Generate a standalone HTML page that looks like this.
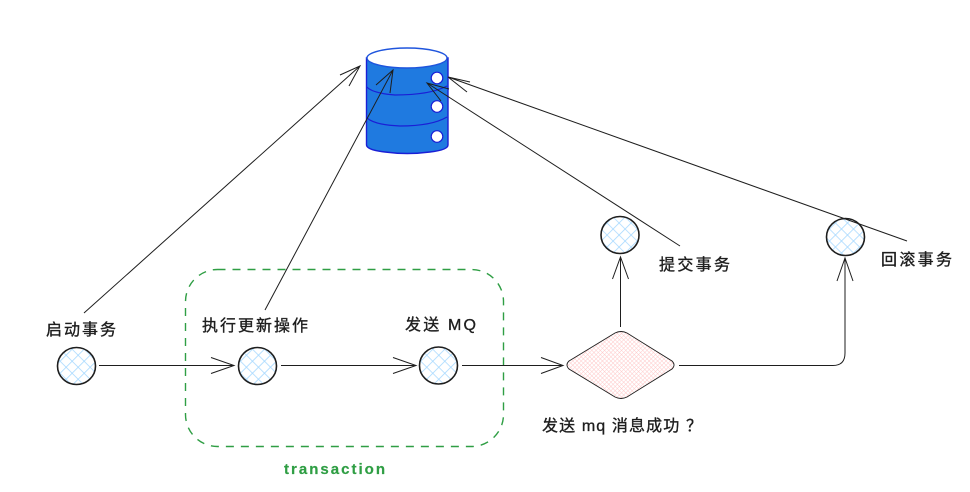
<!DOCTYPE html>
<html>
<head>
<meta charset="utf-8">
<style>
html,body{margin:0;padding:0;background:#fff;}
svg{display:block;}
text{font-family:"Liberation Sans","WenQuanYi Zen Hei","Noto Sans CJK SC",sans-serif;font-size:16px;fill:#1e1e1e;stroke:#1e1e1e;stroke-width:0.35px;}
</style>
</head>
<body>
<svg width="970" height="492" viewBox="0 0 970 492" xmlns="http://www.w3.org/2000/svg">
<defs>
<pattern id="blue" width="8.500" height="8.500" patternUnits="userSpaceOnUse" patternTransform="rotate(45)">
<path d="M0 0H8.500M0 0V8.500" stroke="#a5d8ff" stroke-width="1.6" fill="none"/>
</pattern>
<pattern id="pink" width="3" height="3" patternUnits="userSpaceOnUse" patternTransform="rotate(45)">
<path d="M0 0H3M0 0V3" stroke="#ffc9c9" stroke-width="1" fill="none"/>
</pattern>
</defs>

<!-- green dashed box -->
<rect x="185.500" y="269.500" width="318" height="177" rx="32" fill="none" stroke="#2f9e44" stroke-width="1.4" stroke-dasharray="8 7"/>

<!-- database -->
<path d="M366.500 58V145Q367 150 385 152Q407 155 430 152Q448 150 448 145V58Z" fill="#1f7ae0" stroke="#1a1fd6" stroke-width="1.4"/>
<path d="M367 87Q372 93 395 95Q430 95 447 86M367 118Q375 125 400 126Q432 126 447 117" fill="none" stroke="#1a1fd6" stroke-width="1.2"/>
<ellipse cx="407" cy="58" rx="40" ry="10" fill="#fff" stroke="#1f55dd" stroke-width="1.4"/>
<circle cx="437" cy="78" r="5.800" fill="#fff" stroke="#1a1fd6" stroke-width="1.2"/>
<circle cx="437" cy="106.500" r="5.800" fill="#fff" stroke="#1a1fd6" stroke-width="1.2"/>
<circle cx="437" cy="136.500" r="5.800" fill="#fff" stroke="#1a1fd6" stroke-width="1.2"/>

<!-- nodes -->
<g stroke="#1e1e1e" stroke-width="1.6" fill="url(#blue)">
<ellipse cx="76.500" cy="366" rx="19" ry="18.500"/>
<ellipse cx="257.500" cy="366" rx="19" ry="18.500"/>
<ellipse cx="438.500" cy="365.500" rx="19" ry="18.500"/>
<ellipse cx="620" cy="235" rx="19" ry="18.500"/>
<ellipse cx="845.500" cy="237" rx="19" ry="18.500"/>
</g>

<!-- diamond -->
<path d="M569 361L615 333Q621 330 627 333L672 361Q676 365 672 369L627 397Q621 400 615 397L569 369Q565 365 569 361Z" fill="url(#pink)" stroke="#1e1e1e" stroke-width="0.9"/>

<!-- connectors -->
<g fill="none" stroke="#1e1e1e" stroke-width="1">
<path d="M84 313L360 66M340 75L360 66L349 86"/>
<path d="M265 310L393 70M376 85L393 70L390 93"/>
<path d="M680 246L427 83M449 89L427 83L441 101"/>
<path d="M907 241L448 77M470 82L448 77L467 92"/>
<path d="M99 365.500H234M211 357.500L234 365.500L211 373.500"/>
<path d="M281 365.500H416M393 357.500L416 365.500L393 373.500"/>
<path d="M462 365.500H563M541 357.500L563 365.500L541 373.500"/>
<path d="M620.500 327V257M612.500 279L620.500 257L628.500 279"/>
<path d="M679 365.500H833Q845 365.500 845 353V258M837 281L845 258L853 281"/>
</g>

<!-- labels -->
<text x="46" y="335" textLength="70" lengthAdjust="spacing">启动事务</text>
<text x="202" y="331" textLength="106" lengthAdjust="spacing">执行更新操作</text>
<text x="405" y="330" textLength="71" lengthAdjust="spacing">发送 MQ</text>
<text x="542" y="431" textLength="160" lengthAdjust="spacing">发送 mq 消息成功 ？</text>
<text x="659" y="270" textLength="71" lengthAdjust="spacing">提交事务</text>
<text x="881" y="265" textLength="71" lengthAdjust="spacing">回滚事务</text>
<text x="284" y="474" textLength="101" lengthAdjust="spacing" style="fill:#2f9e44;stroke:#2f9e44;stroke-width:0.2px;font-weight:bold;font-size:15px">transaction</text>
</svg>
</body>
</html>
